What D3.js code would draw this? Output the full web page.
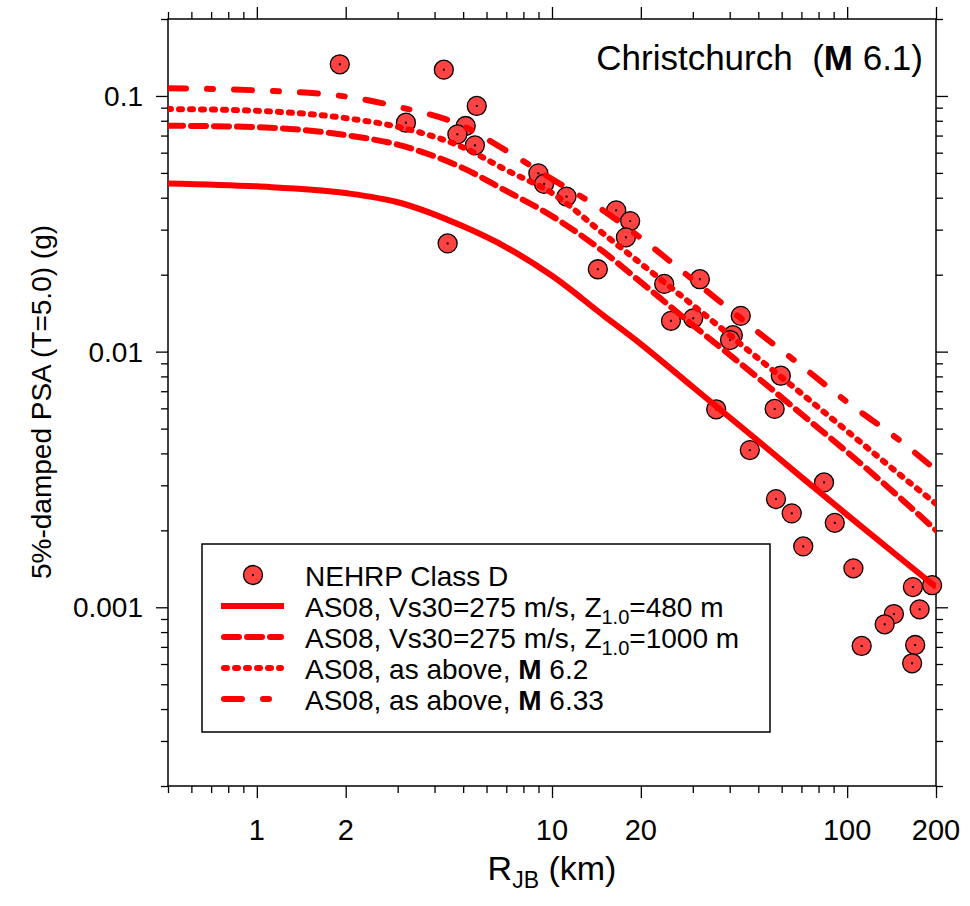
<!DOCTYPE html>
<html>
<head>
<meta charset="utf-8">
<script src="https://cdn.jsdelivr.net/npm/d3@7"></script>
<style>
  body { margin: 0; background: #fff; }
  text { font-family: "Liberation Sans", Arial, sans-serif; fill: #000; }
</style>
</head>
<body>
<svg id="chart" width="970" height="906"></svg>
<script>
// ---------------- DATA ----------------
const rjbGrid   = [0.5, 1, 2, 3, 5, 7, 10, 15, 20, 30, 50, 70, 100, 150, 200];
const as08Z480  = [0.0455, 0.0443, 0.0417, 0.0384, 0.0309, 0.0256, 0.0198, 0.0138, 0.0107, 0.00727, 0.00447, 0.00323, 0.00230, 0.00157, 0.00120];
const as08Z1000 = [0.0765, 0.0755, 0.0703, 0.0645, 0.0522, 0.0425, 0.0339, 0.0245, 0.0187, 0.0127, 0.00788, 0.00570, 0.00405, 0.00270, 0.00200];
const as08M62   = [0.0889, 0.0875, 0.0819, 0.0757, 0.0629, 0.0513, 0.0417, 0.0288, 0.0221, 0.0152, 0.00940, 0.00686, 0.00489, 0.00332, 0.00254];
const as08M633  = [0.1071, 0.1052, 0.0995, 0.0908, 0.0762, 0.0611, 0.0473, 0.0355, 0.0278, 0.0191, 0.0119, 0.00880, 0.00635, 0.00451, 0.00344];

const obsRjb = [1.91, 4.30, 3.20, 5.56, 5.10, 4.78, 5.48, 8.99, 9.40, 11.2, 16.5, 18.4, 17.8, 4.43, 14.3,
                24.0, 31.7, 25.3, 30.1, 41.0, 40.1, 43.6, 59.6, 56.8, 36.0, 46.8, 83.5, 57.4, 64.9, 90.8,
                71.0, 105, 167, 194, 144, 134, 176, 112, 170, 166];
const obsPsa = [0.133, 0.1267, 0.0786, 0.0914, 0.0763, 0.0708, 0.0641, 0.0498, 0.0453, 0.0404, 0.0357, 0.0324, 0.0280, 0.0265, 0.0210,
                0.0184, 0.0192, 0.0132, 0.0135, 0.0116, 0.0111, 0.0138, 0.00805, 0.00597, 0.00595, 0.00412, 0.00308, 0.00265, 0.00233, 0.00214,
                0.00173, 0.00142, 0.00120, 0.00122, 0.000941, 0.000858, 0.000982, 0.000706, 0.000712, 0.000604];

const xTickValues = [1, 2, 10, 20, 100, 200];
const xTickLabels = ["1", "2", "10", "20", "100", "200"];
const xMinorTicks = [0.5, 0.6, 0.7, 0.8, 0.9, 3, 4, 5, 6, 7, 8, 9, 30, 40, 50, 60, 70, 80, 90];
const yTickValues = [0.1, 0.01, 0.001];
const yTickLabels = ["0.1", "0.01", "0.001"];
const yMinorTicks = [0.0002, 0.0003, 0.0004, 0.0005, 0.0006, 0.0007, 0.0008, 0.0009,
                     0.002, 0.003, 0.004, 0.005, 0.006, 0.007, 0.008, 0.009,
                     0.02, 0.03, 0.04, 0.05, 0.06, 0.07, 0.08, 0.09, 0.2];

const legendLabels = [
  [{t: "NEHRP Class D"}],
  [{t: "AS08, Vs30=275 m/s, Z"}, {t: "1.0", sub: true}, {t: "=480 m"}],
  [{t: "AS08, Vs30=275 m/s, Z"}, {t: "1.0", sub: true}, {t: "=1000 m"}],
  [{t: "AS08, as above, "}, {t: "M", bold: true}, {t: "\u00A06.2"}],
  [{t: "AS08, as above, "}, {t: "M", bold: true}, {t: "\u00A06.33"}]
];

// ---------------- LAYOUT ----------------
const L = 168, R = 936, T = 19, B = 786;
const RED = "#ff0000";
const PT_FILL = "#ff4242";

const svg = d3.select("#chart");
const x = d3.scaleLog().domain([0.5, 200]).range([L, R]);
const y = d3.scaleLog().domain([0.0002, 0.2]).range([B, T]);

svg.append("defs").append("clipPath").attr("id", "plotclip")
  .append("rect").attr("x", L).attr("y", T).attr("width", R - L).attr("height", B - T);

// axes (ticks only, outward)
function axisTicks(gen, tr) {
  const g = svg.append("g").attr("transform", tr).call(gen);
  g.select(".domain").remove();
  g.selectAll("text").remove();
  g.selectAll("line").attr("stroke", "#000").attr("stroke-width", 1.3);
}
axisTicks(d3.axisBottom(x).tickValues(xTickValues).tickSize(12).tickSizeOuter(0), `translate(0,${B})`);
axisTicks(d3.axisBottom(x).tickValues(xMinorTicks).tickSize(7).tickSizeOuter(0), `translate(0,${B})`);
axisTicks(d3.axisTop(x).tickValues(xTickValues).tickSize(12).tickSizeOuter(0), `translate(0,${T})`);
axisTicks(d3.axisTop(x).tickValues(xMinorTicks).tickSize(7).tickSizeOuter(0), `translate(0,${T})`);
axisTicks(d3.axisLeft(y).tickValues(yTickValues).tickSize(12).tickSizeOuter(0), `translate(${L},0)`);
axisTicks(d3.axisLeft(y).tickValues(yMinorTicks).tickSize(7).tickSizeOuter(0), `translate(${L},0)`);
axisTicks(d3.axisRight(y).tickValues(yTickValues).tickSize(12).tickSizeOuter(0), `translate(${R},0)`);
axisTicks(d3.axisRight(y).tickValues(yMinorTicks).tickSize(7).tickSizeOuter(0), `translate(${R},0)`);

// frame
svg.append("rect").attr("x", L).attr("y", T).attr("width", R - L).attr("height", B - T)
  .attr("fill", "none").attr("stroke", "#000").attr("stroke-width", 1.5);

// tick labels
svg.append("g").selectAll("text").data(xTickValues).join("text")
  .attr("x", d => x(d)).attr("y", 840).attr("text-anchor", "middle")
  .attr("font-size", 29).text((d, i) => xTickLabels[i]);
svg.append("g").selectAll("text").data(yTickValues).join("text")
  .attr("x", 143).attr("y", d => y(d) + 10).attr("text-anchor", "end")
  .attr("font-size", 28).text((d, i) => yTickLabels[i]);

// axis titles
const xt = svg.append("text").attr("x", (L + R) / 2).attr("y", 880)
  .attr("text-anchor", "middle").attr("font-size", 34);
xt.append("tspan").text("R");
xt.append("tspan").attr("font-size", 23).attr("dy", 8).text("JB");
xt.append("tspan").attr("dy", -8).text("\u00A0(km)");

svg.append("text").attr("transform", "translate(51,402) rotate(-90)")
  .attr("text-anchor", "middle").attr("font-size", 28)
  .text("5%-damped PSA (T=5.0) (g)");

// observations
const pts = svg.append("g");
const obs = obsRjb.map((r, i) => [r, obsPsa[i]]);
pts.selectAll("circle").data(obs).join("circle")
  .attr("cx", d => x(d[0])).attr("cy", d => y(d[1])).attr("r", 9.5)
  .attr("fill", PT_FILL).attr("stroke", "#000").attr("stroke-width", 1.3);
pts.selectAll("rect").data(obs).join("rect")
  .attr("x", d => x(d[0]) - 1).attr("y", d => y(d[1]) - 1).attr("width", 2).attr("height", 2)
  .attr("fill", "#000");

// model curves
const series = [
  {vals: as08Z480,  dash: null},
  {vals: as08Z1000, dash: "15,8"},
  {vals: as08M62,   dash: "3,8"},
  {vals: as08M633,  dash: "18,21,6,21"}
];
const line = d3.line().x(d => x(d[0])).y(d => y(d[1])).curve(d3.curveMonotoneX);
const lg = svg.append("g").attr("clip-path", "url(#plotclip)");
series.forEach(s => {
  lg.append("path").datum(rjbGrid.map((r, i) => [r, s.vals[i]]))
    .attr("d", line).attr("fill", "none").attr("stroke", RED).attr("stroke-width", 6)
    .attr("stroke-linecap", s.dash ? "round" : "butt")
    .attr("stroke-dasharray", s.dash);
});

// title
const tt = svg.append("text").attr("x", 923).attr("y", 70).attr("text-anchor", "end").attr("font-size", 35);
tt.append("tspan").text("Christchurch\u00A0\u00A0(");
tt.append("tspan").attr("font-weight", "bold").text("M");
tt.append("tspan").text("\u00A06.1)");

// legend
const leg = svg.append("g");
leg.append("rect").attr("x", 202).attr("y", 544).attr("width", 568).attr("height", 188)
  .attr("fill", "#fff").attr("stroke", "#000").attr("stroke-width", 1.5);
legendLabels.forEach((parts, i) => {
  const base = 586 + i * 31;
  const cy = base - 11;
  if (i === 0) {
    leg.append("circle").attr("cx", 253).attr("cy", cy).attr("r", 9.5)
      .attr("fill", PT_FILL).attr("stroke", "#000").attr("stroke-width", 1.3);
    leg.append("rect").attr("x", 252).attr("y", cy - 1).attr("width", 2).attr("height", 2).attr("fill", "#000");
  } else {
    const s = series[i - 1];
    const x0 = s.dash ? 224 : 221, x1 = s.dash ? 281 : 284;
    leg.append("line").attr("x1", x0).attr("x2", x1).attr("y1", cy).attr("y2", cy)
      .attr("stroke", RED).attr("stroke-width", 6)
      .attr("stroke-linecap", s.dash ? "round" : "butt")
      .attr("stroke-dasharray", s.dash);
  }
  const t = leg.append("text").attr("x", 305).attr("y", base).attr("font-size", 28);
  let shifted = false;
  parts.forEach(p => {
    const ts = t.append("tspan").text(p.t);
    if (p.sub) { ts.attr("font-size", 20).attr("dy", 7); shifted = true; }
    else if (shifted) { ts.attr("dy", -7); shifted = false; }
    if (p.bold) ts.attr("font-weight", "bold");
  });
});
</script>
</body>
</html>
